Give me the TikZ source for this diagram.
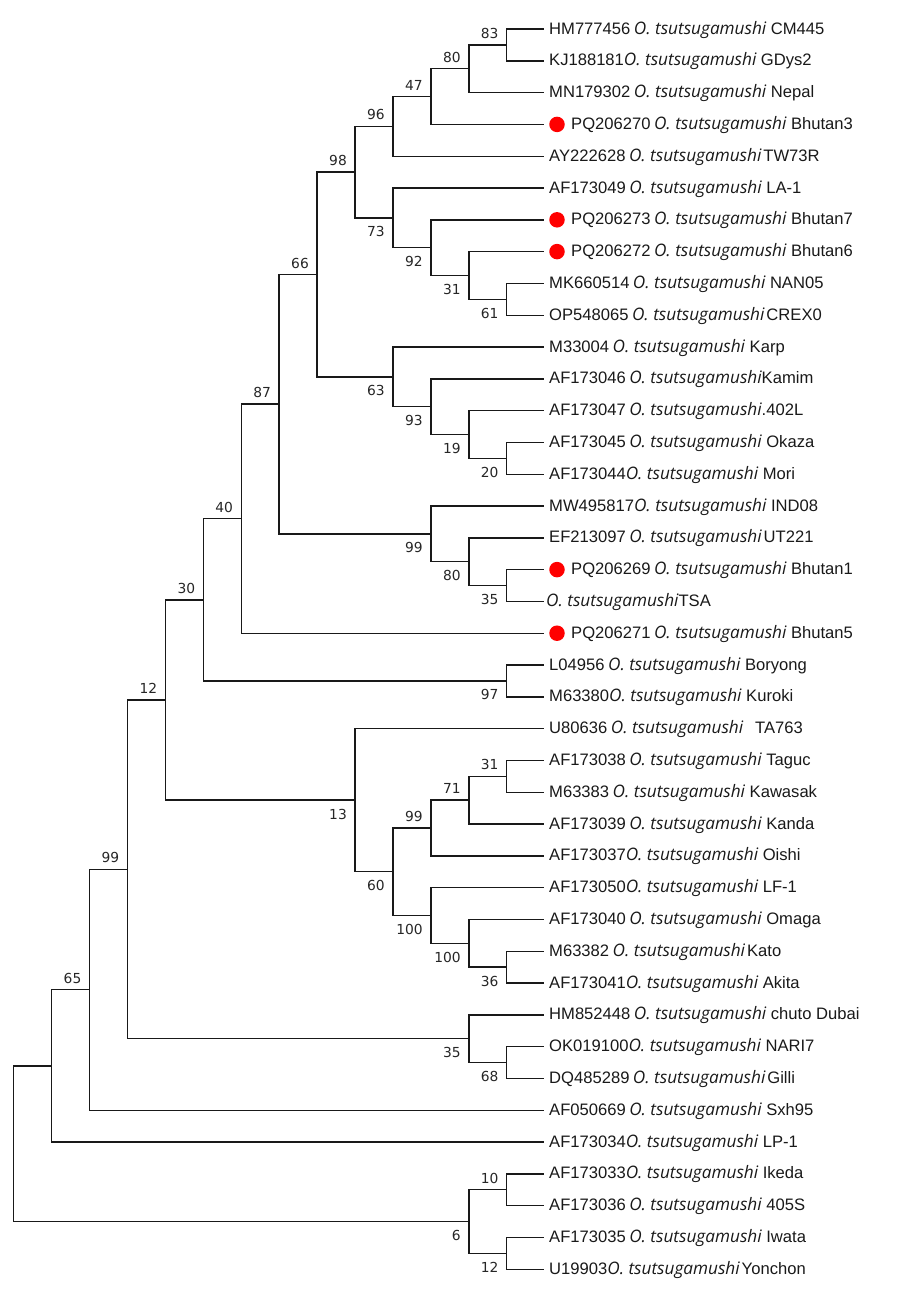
\documentclass[tikz,border=0pt]{standalone}
\usepackage{fontspec}
\setmainfont{Liberation Sans}
\newfontfamily\spfont{Open Sans}
\newfontfamily\bsfont{DejaVu Sans}
\newcommand\osp{{\spfont\itshape\fontsize{17.2}{18}\selectfont O. tsutsugamushi}}
\newcommand\idg{\hspace{3.5pt}}
\begin{document}
\begin{tikzpicture}[x=1pt,y=-1pt,
  br/.style={line width=1.4pt, black!90, line cap=rect},
  bsfnt/.style={inner sep=0pt, font=\bsfont\fontsize{13.8}{14}\selectfont, text=black!85},
  bsu/.style={bsfnt, anchor=south east, xshift=-8pt, yshift=6pt},
  bsl/.style={bsfnt, anchor=north east, xshift=-8pt, yshift=-8.5pt},
  leaf/.style={anchor=base west, inner sep=0pt, font=\fontsize{16.6}{18}\selectfont, text=black!90},
  rdot/.style={circle, fill=red, inner sep=0pt, minimum size=15.5pt}]
\useasboundingbox (0,0) rectangle (900,1293);
% leaf ends
\coordinate (l1) at (543,29);
\coordinate (l2) at (543,60.8);
\coordinate (l3) at (543,92.6);
\coordinate (l4) at (543,124.4);
\coordinate (l5) at (543,156.2);
\coordinate (l6) at (543,188);
\coordinate (l7) at (543,219.8);
\coordinate (l8) at (543,251.6);
\coordinate (l9) at (543,283.4);
\coordinate (l10) at (543,315.2);
\coordinate (l11) at (543,347);
\coordinate (l12) at (543,378.8);
\coordinate (l13) at (543,410.6);
\coordinate (l14) at (543,442.4);
\coordinate (l15) at (543,474.2);
\coordinate (l16) at (543,506);
\coordinate (l17) at (543,537.8);
\coordinate (l18) at (543,569.6);
\coordinate (l19) at (543,601.4);
\coordinate (l20) at (543,633.2);
\coordinate (l21) at (543,665);
\coordinate (l22) at (543,696.8);
\coordinate (l23) at (543,728.6);
\coordinate (l24) at (543,760.4);
\coordinate (l25) at (543,792.2);
\coordinate (l26) at (543,824);
\coordinate (l27) at (543,855.8);
\coordinate (l28) at (543,887.6);
\coordinate (l29) at (543,919.4);
\coordinate (l30) at (543,951.2);
\coordinate (l31) at (543,983);
\coordinate (l32) at (543,1014.8);
\coordinate (l33) at (543,1046.6);
\coordinate (l34) at (543,1078.4);
\coordinate (l35) at (543,1110.2);
\coordinate (l36) at (543,1142);
\coordinate (l37) at (543,1173.8);
\coordinate (l38) at (543,1205.6);
\coordinate (l39) at (543,1237.4);
\coordinate (l40) at (543,1269.2);
% internal nodes
\coordinate (n83) at (506.7,44.9);
\coordinate (n80) at (468.8,68.75);
\coordinate (n47) at (430.8,96.58);
\coordinate (n96) at (392.9,126.39);
\coordinate (n61) at (506.7,299.3);
\coordinate (n31) at (468.8,275.45);
\coordinate (n92) at (430.8,247.63);
\coordinate (n73) at (392.9,217.81);
\coordinate (n98) at (355.0,172.1);
\coordinate (n20) at (506.7,458.3);
\coordinate (n19) at (468.8,434.45);
\coordinate (n93) at (430.8,406.63);
\coordinate (n63) at (392.9,376.8);
\coordinate (n66) at (317.0,274.45);
\coordinate (n35a) at (506.7,585.5);
\coordinate (n80b) at (468.8,561.65);
\coordinate (n99a) at (430.8,533.8);
\coordinate (n87) at (279.1,404.1);
\coordinate (n40) at (241.2,518.65);
\coordinate (n97) at (506.7,680.9);
\coordinate (n30) at (203.3,599.8);
\coordinate (n31b) at (506.7,776.3);
\coordinate (n71) at (468.8,800.15);
\coordinate (n99b) at (430.8,827.98);
\coordinate (n36) at (506.7,967.1);
\coordinate (n100b) at (468.8,943.25);
\coordinate (n100a) at (430.8,915.43);
\coordinate (n60) at (392.9,871.7);
\coordinate (n13) at (355.0,800.15);
\coordinate (n12) at (165.3,699.98);
\coordinate (n68) at (506.7,1062.5);
\coordinate (n35) at (468.8,1038.65);
\coordinate (n99) at (127.4,869.3);
\coordinate (n65) at (89.5,989.75);
\coordinate (n52) at (51.5,1065.9);
\coordinate (n10) at (506.7,1189.7);
\coordinate (n12b) at (506.7,1253.3);
\coordinate (n6) at (468.8,1221.5);
\coordinate (root) at (13.6,1143.7);
% branches
\foreach \p/\a/\b in {n83/l1/l2, n80/n83/l3, n47/n80/l4, n96/n47/l5,
  n61/l9/l10, n31/l8/n61, n92/l7/n31, n73/l6/n92, n98/n96/n73,
  n20/l14/l15, n19/l13/n20, n93/l12/n19, n63/l11/n93, n66/n98/n63,
  n35a/l18/l19, n80b/l17/n35a, n99a/l16/n80b, n87/n66/n99a, n40/n87/l20,
  n97/l21/l22, n30/n40/n97,
  n31b/l24/l25, n71/n31b/l26, n99b/n71/l27, n36/l30/l31, n100b/l29/n36,
  n100a/l28/n100b, n60/n99b/n100a, n13/l23/n60, n12/n30/n13,
  n68/l33/l34, n35/l32/n68, n99/n12/n35, n65/n99/l35, n52/n65/l36,
  n10/l37/l38, n12b/l39/l40, n6/n10/n12b, root/n52/n6}
  \draw[br] (\a) -| (\p) |- (\b);
% bootstrap values
\foreach \p/\t in {n83/83, n80/80, n47/47, n96/96, n98/98, n66/66, n87/87,
  n40/40, n30/30, n12/12, n99b/99, n71/71, n31b/31, n99/99, n65/65, n10/10}
  \node[bsu] (b\p) at (\p) {\t};
\foreach \p/\t in {n73/73, n92/92, n31/31, n61/61, n63/63, n93/93, n19/19,
  n20/20, n99a/99, n80b/80, n35a/35, n97/97, n13/13, n60/60, n100a/100,
  n100b/100, n36/36, n35/35, n68/68, n6/6, n12b/12}
  \node[bsl] (b\p) at (\p) {\t};
% red markers
\foreach \i in {4,7,8,18,20}
  \node[rdot] (d\i) at ([xshift=14pt]l\i) {};
% taxa
\node[leaf] (t1) at ([xshift=6pt,yshift=-5pt]l1) {HM777456\idg\osp{} CM445};
\node[leaf] (t2) at ([xshift=6pt,yshift=-5pt]l2) {KJ188181\osp{} GDys2};
\node[leaf] (t3) at ([xshift=6pt,yshift=-5pt]l3) {MN179302\idg\osp{} Nepal};
\node[leaf] (t4) at ([xshift=28pt,yshift=-5pt]l4) {PQ206270\idg\osp{} Bhutan3};
\node[leaf] (t5) at ([xshift=6pt,yshift=-5pt]l5) {AY222628\idg\osp\hspace{2pt}TW73R};
\node[leaf] (t6) at ([xshift=6pt,yshift=-5pt]l6) {AF173049\idg\osp{} LA-1};
\node[leaf] (t7) at ([xshift=28pt,yshift=-5pt]l7) {PQ206273\idg\osp{} Bhutan7};
\node[leaf] (t8) at ([xshift=28pt,yshift=-5pt]l8) {PQ206272\idg\osp{} Bhutan6};
\node[leaf] (t9) at ([xshift=6pt,yshift=-5pt]l9) {MK660514\idg\osp{} NAN05};
\node[leaf] (t10) at ([xshift=6pt,yshift=-5pt]l10) {OP548065\idg\osp\hspace{2pt}CREX0};
\node[leaf] (t11) at ([xshift=6pt,yshift=-5pt]l11) {M33004\idg\osp{} Karp};
\node[leaf] (t12) at ([xshift=6pt,yshift=-5pt]l12) {AF173046\idg\osp Kamim};
\node[leaf] (t13) at ([xshift=6pt,yshift=-5pt]l13) {AF173047\idg\osp.402L};
\node[leaf] (t14) at ([xshift=6pt,yshift=-5pt]l14) {AF173045\idg\osp{} Okaza};
\node[leaf] (t15) at ([xshift=6pt,yshift=-5pt]l15) {AF173044\osp{} Mori};
\node[leaf] (t16) at ([xshift=6pt,yshift=-5pt]l16) {MW495817\osp{} IND08};
\node[leaf] (t17) at ([xshift=6pt,yshift=-5pt]l17) {EF213097\idg\osp\hspace{2pt}UT221};
\node[leaf] (t18) at ([xshift=28pt,yshift=-5pt]l18) {PQ206269\idg\osp{} Bhutan1};
\node[leaf] (t19) at ([xshift=3pt,yshift=-5pt]l19) {\osp TSA};
\node[leaf] (t20) at ([xshift=28pt,yshift=-5pt]l20) {PQ206271\idg\osp{} Bhutan5};
\node[leaf] (t21) at ([xshift=6pt,yshift=-5pt]l21) {L04956\idg\osp{} Boryong};
\node[leaf] (t22) at ([xshift=6pt,yshift=-5pt]l22) {M63380\osp{} Kuroki};
\node[leaf] (t23) at ([xshift=6pt,yshift=-5pt]l23) {U80636\idg\osp\hspace{12pt}TA763};
\node[leaf] (t24) at ([xshift=6pt,yshift=-5pt]l24) {AF173038\idg\osp{} Taguc};
\node[leaf] (t25) at ([xshift=6pt,yshift=-5pt]l25) {M63383\idg\osp{} Kawasak};
\node[leaf] (t26) at ([xshift=6pt,yshift=-5pt]l26) {AF173039\idg\osp{} Kanda};
\node[leaf] (t27) at ([xshift=6pt,yshift=-5pt]l27) {AF173037\osp{} Oishi};
\node[leaf] (t28) at ([xshift=6pt,yshift=-5pt]l28) {AF173050\osp{} LF-1};
\node[leaf] (t29) at ([xshift=6pt,yshift=-5pt]l29) {AF173040\idg\osp{} Omaga};
\node[leaf] (t30) at ([xshift=6pt,yshift=-5pt]l30) {M63382\idg\osp\hspace{2pt}Kato};
\node[leaf] (t31) at ([xshift=6pt,yshift=-5pt]l31) {AF173041\osp{} Akita};
\node[leaf] (t32) at ([xshift=6pt,yshift=-5pt]l32) {HM852448\idg\osp{} chuto Dubai};
\node[leaf] (t33) at ([xshift=6pt,yshift=-5pt]l33) {OK019100\osp{} NARI7};
\node[leaf] (t34) at ([xshift=6pt,yshift=-5pt]l34) {DQ485289\idg\osp\hspace{2pt}Gilli};
\node[leaf] (t35) at ([xshift=6pt,yshift=-5pt]l35) {AF050669\idg\osp{} Sxh95};
\node[leaf] (t36) at ([xshift=6pt,yshift=-5pt]l36) {AF173034\osp{} LP-1};
\node[leaf] (t37) at ([xshift=6pt,yshift=-5pt]l37) {AF173033\osp{} Ikeda};
\node[leaf] (t38) at ([xshift=6pt,yshift=-5pt]l38) {AF173036\idg\osp{} 405S};
\node[leaf] (t39) at ([xshift=6pt,yshift=-5pt]l39) {AF173035\idg\osp{} Iwata};
\node[leaf] (t40) at ([xshift=6pt,yshift=-5pt]l40) {U19903\osp\hspace{2pt}Yonchon};
\end{tikzpicture}
\end{document}
